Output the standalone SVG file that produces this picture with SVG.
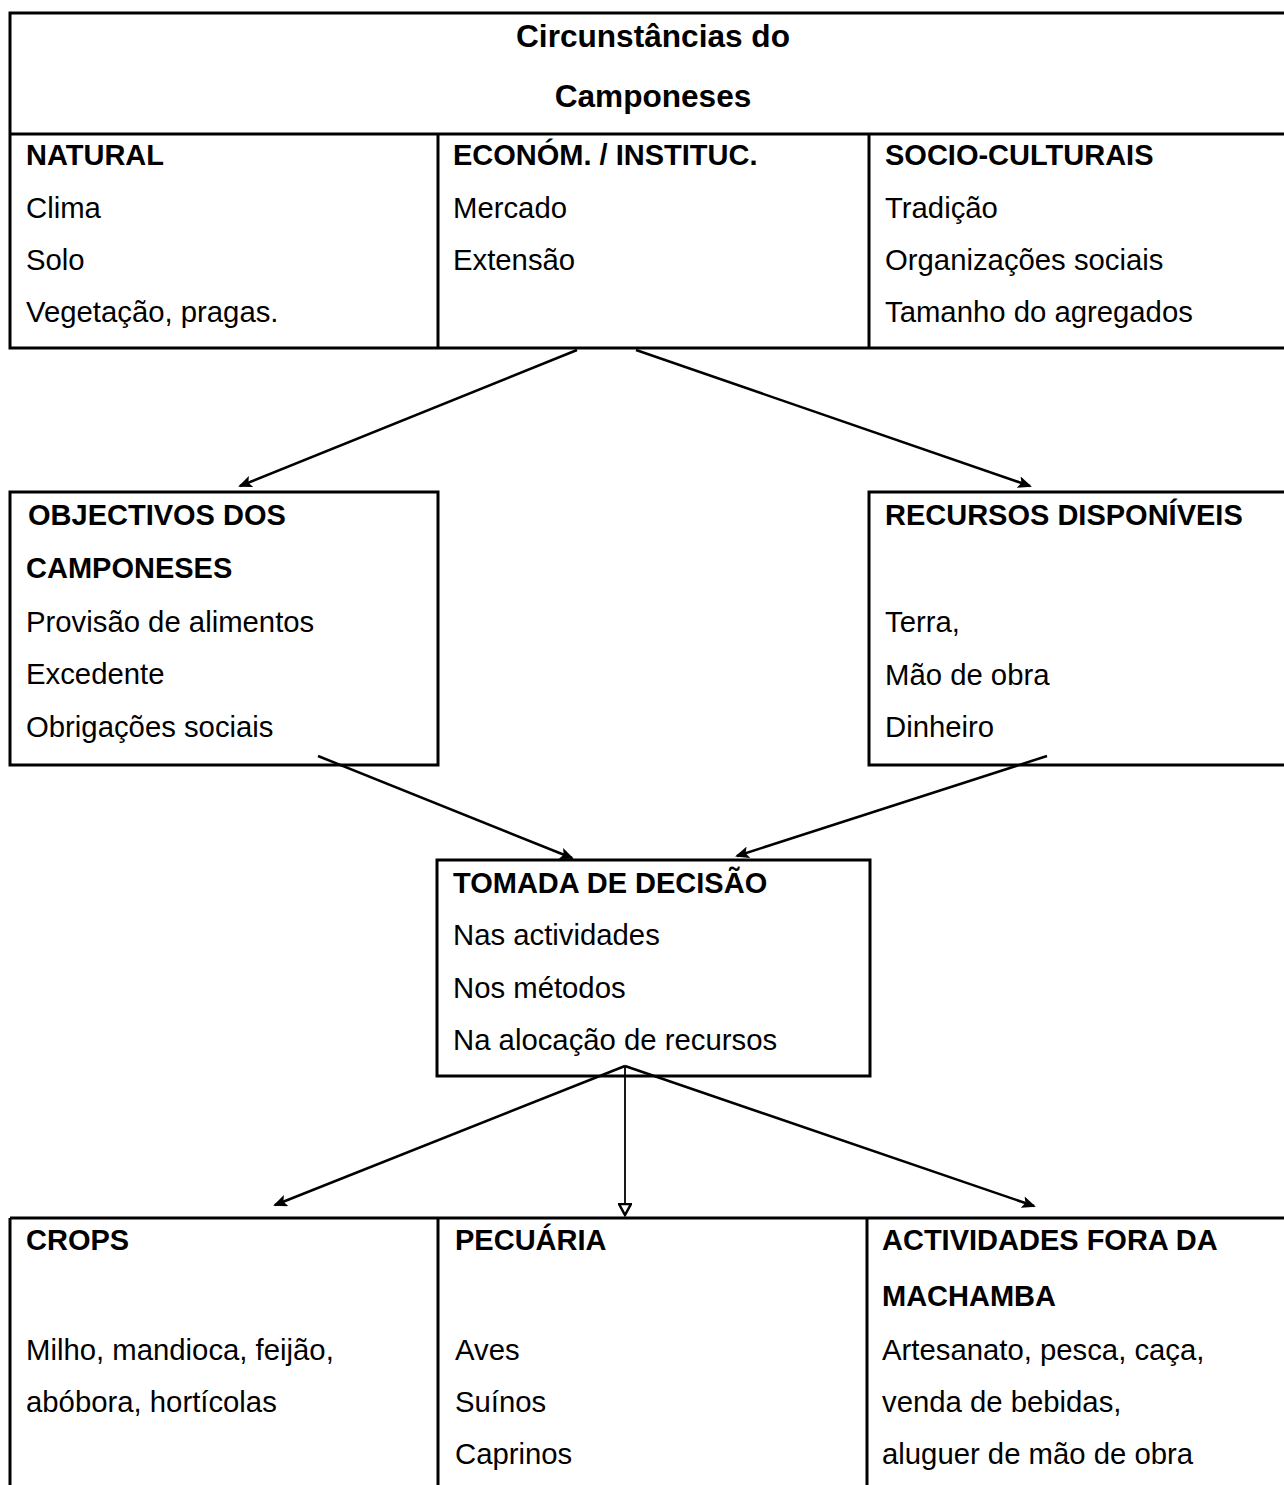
<svg xmlns="http://www.w3.org/2000/svg" width="1284" height="1485" viewBox="0 0 1284 1485">
<defs>
<style>
.box{fill:none;stroke:#000;stroke-width:3}
.t{font-family:"Liberation Sans",Arial,sans-serif;font-size:29.3px;fill:#000}
.b{font-weight:bold;font-size:29px}
.title{font-family:"Liberation Sans",Arial,sans-serif;font-size:31.6px;font-weight:bold;fill:#000;text-anchor:middle}
.c{stroke:#000;stroke-width:2.5;fill:none}
</style>
<marker id="ah" markerWidth="14" markerHeight="12" refX="12" refY="6" orient="auto" markerUnits="userSpaceOnUse">
<path d="M0,0 L14,6 L0,12 L3,6 Z" fill="#000"/>
</marker>
<marker id="av" markerWidth="14" markerHeight="14" refX="11" refY="7" orient="auto" markerUnits="userSpaceOnUse">
<path d="M1,1 L12,7 L1,13 Z" fill="#fff" stroke="#000" stroke-width="2.5"/>
</marker>
</defs>
<rect width="1284" height="1485" fill="#fff"/>

<g id="circunstancias">
<rect class="box" x="10" y="13" width="1290" height="335"/>
<line class="box" x1="10" y1="134" x2="1290" y2="134"/>
<line class="box" x1="438" y1="134" x2="438" y2="348"/>
<line class="box" x1="869" y1="134" x2="869" y2="348"/>
<text class="title" x="653" y="47">Circunstâncias do</text>
<text class="title" x="653" y="107">Camponeses</text>
</g>
<g id="natural">
<text class="t b" x="26" y="165">NATURAL</text>
<text class="t" x="26" y="218">Clima</text>
<text class="t" x="26" y="270">Solo</text>
<text class="t" x="26" y="322">Vegetação, pragas.</text>
</g>
<g id="economico">
<text class="t b" x="453" y="165">ECONÓM. / INSTITUC.</text>
<text class="t" x="453" y="218">Mercado</text>
<text class="t" x="453" y="270">Extensão</text>
</g>
<g id="socioculturais">
<text class="t b" x="885" y="165">SOCIO-CULTURAIS</text>
<text class="t" x="885" y="218">Tradição</text>
<text class="t" x="885" y="270">Organizações sociais</text>
<text class="t" x="885" y="322">Tamanho do agregados</text>
</g>

<g id="objectivos">
<rect class="box" x="10" y="492" width="428" height="273"/>
<text class="t b" x="28" y="525">OBJECTIVOS DOS</text>
<text class="t b" x="26" y="578">CAMPONESES</text>
<text class="t" x="26" y="632">Provisão de alimentos</text>
<text class="t" x="26" y="684">Excedente</text>
<text class="t" x="26" y="737">Obrigações sociais</text>
</g>
<g id="recursos">
<rect class="box" x="869" y="492" width="430" height="273"/>
<text class="t b" x="885" y="525">RECURSOS DISPONÍVEIS</text>
<text class="t" x="885" y="632">Terra,</text>
<text class="t" x="885" y="685">Mão de obra</text>
<text class="t" x="885" y="737">Dinheiro</text>
</g>

<g id="tomada">
<rect class="box" x="437" y="860" width="433" height="216"/>
<text class="t b" x="453" y="893">TOMADA DE DECISÃO</text>
<text class="t" x="453" y="945">Nas actividades</text>
<text class="t" x="453" y="998">Nos métodos</text>
<text class="t" x="453" y="1050">Na alocação de recursos</text>
</g>

<g id="atividades">
<line class="box" x1="10" y1="1218" x2="1290" y2="1218"/>
<line class="box" x1="10" y1="1218" x2="10" y2="1490"/>
<line class="box" x1="438" y1="1218" x2="438" y2="1490"/>
<line class="box" x1="867" y1="1218" x2="867" y2="1490"/>
</g>
<g id="crops">
<text class="t b" x="26" y="1250">CROPS</text>
<text class="t" x="26" y="1360">Milho, mandioca, feijão,</text>
<text class="t" x="26" y="1412">abóbora, hortícolas</text>
</g>
<g id="pecuaria">
<text class="t b" x="455" y="1250">PECUÁRIA</text>
<text class="t" x="455" y="1360">Aves</text>
<text class="t" x="455" y="1412">Suínos</text>
<text class="t" x="455" y="1464">Caprinos</text>
</g>
<g id="fora">
<text class="t b" x="882" y="1250">ACTIVIDADES FORA DA</text>
<text class="t b" x="882" y="1306">MACHAMBA</text>
<text class="t" x="882" y="1360">Artesanato, pesca, caça,</text>
<text class="t" x="882" y="1412">venda de bebidas,</text>
<text class="t" x="882" y="1464">aluguer de mão de obra</text>
</g>

<g id="connectors">
<line class="c" x1="577" y1="350" x2="240" y2="486" marker-end="url(#ah)"/>
<line class="c" x1="636" y1="350" x2="1030" y2="486" marker-end="url(#ah)"/>
<line class="c" x1="318" y1="756" x2="572" y2="858" marker-end="url(#ah)"/>
<line class="c" x1="1047" y1="756" x2="737" y2="856" marker-end="url(#ah)"/>
<line class="c" x1="625" y1="1066" x2="275" y2="1205" marker-end="url(#ah)"/>
<line class="c" x1="625" y1="1066" x2="625" y2="1214" marker-end="url(#av)" style="stroke-width:1.8"/>
<line class="c" x1="625" y1="1066" x2="1034" y2="1206" marker-end="url(#ah)"/>
</g>
</svg>
